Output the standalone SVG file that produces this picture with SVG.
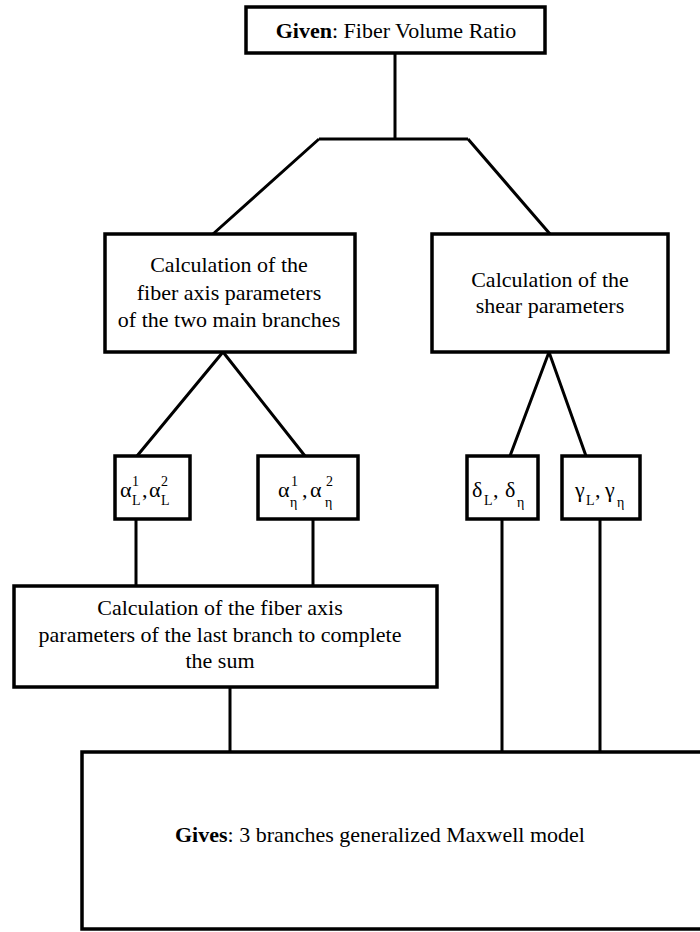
<svg xmlns="http://www.w3.org/2000/svg" width="700" height="932" viewBox="0 0 700 932">
<style>
.box{fill:#fff;stroke:#000;stroke-width:3.5}
.ln{fill:none;stroke:#000;stroke-width:3;stroke-linejoin:miter}
text{font-family:"Liberation Serif","Times New Roman",serif;font-size:22px;fill:#000}
.c{text-anchor:middle}
.s{font-size:14px}
</style>
<rect width="700" height="932" fill="#fff"/>
<g id="connectors">
<path class="ln" d="M395 53V139M319 139H468M319 139L213 234M468 139L550 234"/>
<path class="ln" d="M137 456L223 352L305 456"/>
<path class="ln" d="M510 456L549 352L586 456"/>
<path class="ln" d="M136 519V586M313 519V586"/>
<path class="ln" d="M230 687V752M502 519V752M600 519V752"/>
</g>
<g id="given">
<rect class="box" x="246" y="7" width="299" height="46"/>
<text class="c" x="396" y="38"><tspan font-weight="bold">Given</tspan>: Fiber Volume Ratio</text>
</g>
<g id="calc-main">
<rect class="box" x="105" y="234" width="250" height="118"/>
<text class="c" x="229" y="272">Calculation of the</text>
<text class="c" x="229" y="300">fiber axis parameters</text>
<text class="c" x="229" y="327">of the two main branches</text>
</g>
<g id="calc-shear">
<rect class="box" x="432" y="234" width="236" height="118"/>
<text class="c" x="550" y="287">Calculation of the</text>
<text class="c" x="550" y="313">shear parameters</text>
</g>
<g id="alpha-L">
<rect class="box" x="115" y="456" width="75" height="63"/>
<text x="120" y="497">α<tspan class="s" x="132" y="486">1</tspan><tspan class="s" x="132" y="505">L</tspan><tspan x="142" y="497">,</tspan><tspan x="149" y="497">α</tspan><tspan class="s" x="161" y="486">2</tspan><tspan class="s" x="161" y="505">L</tspan></text>
</g>
<g id="alpha-eta">
<rect class="box" x="258" y="456" width="100" height="63"/>
<text x="278" y="497">α<tspan class="s" x="291" y="486">1</tspan><tspan class="s" x="290" y="507">η</tspan><tspan x="302" y="497">,</tspan><tspan x="310" y="497">α</tspan><tspan class="s" x="326" y="486">2</tspan><tspan class="s" x="325" y="507">η</tspan></text>
</g>
<g id="delta">
<rect class="box" x="467" y="456" width="71" height="63"/>
<text x="472" y="497">δ<tspan class="s" x="484" y="505">L</tspan><tspan x="493" y="497">,</tspan><tspan x="505" y="497">δ</tspan><tspan class="s" x="517" y="507">η</tspan></text>
</g>
<g id="gamma">
<rect class="box" x="562" y="456" width="78" height="63"/>
<text x="575" y="497">γ<tspan class="s" x="586" y="505">L</tspan><tspan x="595" y="497">,</tspan><tspan x="605" y="497">γ</tspan><tspan class="s" x="617" y="507">η</tspan></text>
</g>
<g id="calc-last">
<rect class="box" x="14" y="586" width="423" height="101"/>
<text class="c" x="220" y="615">Calculation of the fiber axis</text>
<text class="c" x="220" y="642">parameters of the last branch to complete</text>
<text class="c" x="220" y="668">the sum</text>
</g>
<g id="gives">
<rect class="box" x="82" y="752" width="700" height="177"/>
<text x="175" y="842"><tspan font-weight="bold">Gives</tspan>: 3 branches generalized Maxwell model</text>
</g>
</svg>
